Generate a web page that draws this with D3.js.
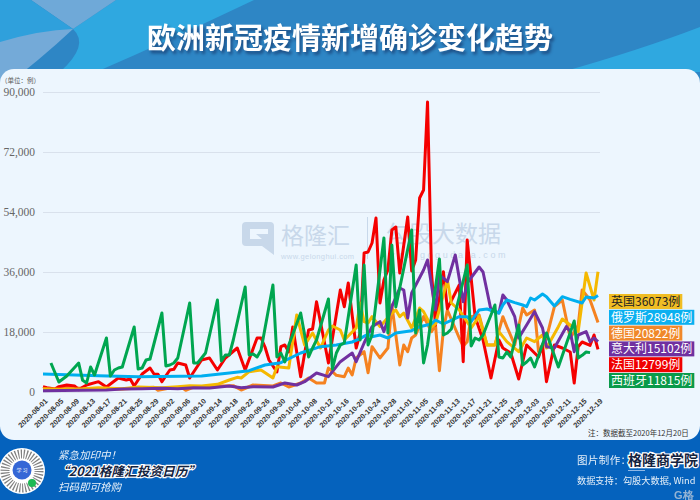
<!DOCTYPE html>
<html>
<head>
<meta charset="utf-8">
<script src="https://cdn.jsdelivr.net/npm/d3@7"></script>
<style>
  html, body { margin: 0; padding: 0; background: #2e86c5; }
  svg { display: block; }
  text { font-family: "Noto Sans CJK SC", "Noto Sans", sans-serif; }
</style>
</head>
<body>
<script>
// chart data (day = days since 2020-08-01)
const tickLabels = ['2020-08-01','2020-08-05','2020-08-09','2020-08-13','2020-08-17','2020-08-21','2020-08-25','2020-08-29',
  '2020-09-02','2020-09-06','2020-09-10','2020-09-14','2020-09-18','2020-09-22','2020-09-26','2020-09-30',
  '2020-10-04','2020-10-08','2020-10-12','2020-10-16','2020-10-20','2020-10-24','2020-10-28','2020-11-01',
  '2020-11-05','2020-11-09','2020-11-13','2020-11-17','2020-11-21','2020-11-25','2020-11-29','2020-12-03',
  '2020-12-07','2020-12-11','2020-12-15','2020-12-19'];
const yTicks = [0, 18000, 36000, 54000, 72000, 90000];

const germanyDays = [0,3,5,8,12,20,28,29,32,35,36,38,44,48,50,53,58,60,62,65,67,69,71,72,74,76,77,78,79,81,82,83,85,87,88,90,91,92,93,94,96,98,99,100,101,102,105,106,107,108,110,112,114,116,117,119,121,122,124,125,127,129,131,133,135,136,138,140];
const germanyValues = [600,800,1500,1300,800,900,1400,500,1200,1400,500,1500,1800,1900,600,2100,1800,2700,1500,2700,4200,2700,2700,7200,5000,4600,7200,5100,10200,12100,5800,13600,10200,13200,26100,8100,14100,12100,16200,17100,22600,18100,20100,6400,18600,24600,16200,13800,15100,22600,23100,14100,14100,22600,19600,14100,25200,23100,24600,12100,16200,25600,27600,16200,20000,30600,27600,20822];

const franceDays = [0,1,3,4,6,8,9,11,14,16,19,21,22,23,25,27,28,29,30,32,33,34,36,37,40,42,44,46,49,51,54,55,56,57,59,60,61,62,63,65,67,68,69,72,75,76,77,79,80,81,82,83,84,85,86,87,88,89,90,91,92,93,94,95,96,97,98,99,101,102,105,106,107,109,111,113,115,116,118,120,122,124,125,126,127,129,131,133,134,135,136,138,139,140];
const franceValues = [1600,1300,900,1600,2100,1800,700,2100,3100,1500,4200,3600,3900,1800,5400,7200,5400,5300,3100,6600,6800,8700,8100,4200,9600,10200,6600,10200,13200,6600,16200,16200,13500,9600,6000,13600,14100,12000,19500,4600,18600,18900,27100,8700,30600,25600,32700,13200,17700,41700,42000,44700,52200,26700,33600,36600,48600,49500,35700,44000,52500,36300,39600,58200,60600,87000,36000,20100,36100,25000,32100,9100,45600,22600,15600,4200,15600,13200,11700,3900,14100,11700,10500,14100,3100,14100,13200,12000,2700,13600,15000,14000,17100,12799];

const ukDays = [0,5,10,14,20,24,30,34,37,40,44,47,49,50,52,55,58,59,62,64,66,68,70,72,73,75,76,79,80,81,82,83,85,88,89,90,91,93,95,96,98,99,102,103,105,108,110,112,114,115,117,120,122,124,126,127,130,131,133,135,137,139,140];
const ukValues = [1000,800,1000,1300,1000,1500,1300,1600,1900,1800,2300,3600,4400,4200,6100,6600,4200,7600,7200,23100,14100,17700,13200,18600,19800,18600,15600,19200,26700,21100,20700,22600,19600,23700,24600,22600,23700,19200,25200,24100,19600,20400,33600,26700,24600,19200,22600,14100,14100,18100,15100,12100,16200,15100,17100,13200,19600,21900,20100,18100,35700,27600,36073];

const italyDays = [0,10,16,20,25,30,34,38,42,47,50,53,58,61,64,66,69,72,75,78,79,81,83,85,86,88,90,91,92,93,96,97,99,100,102,104,106,107,110,111,113,115,116,117,119,120,122,124,126,127,129,132,133,134,135,137,138,139,140];
const italyValues = [400,500,600,900,1000,1100,1000,1300,1200,1800,1300,1600,1500,2700,2100,3100,5700,4600,9100,11700,9100,14700,19600,21100,18100,25600,31200,30600,22200,29700,36600,39600,24600,35100,33100,41100,27100,32700,37500,36000,24600,23700,29100,27600,22600,16200,20100,24100,19200,13600,13200,19600,18100,12100,17100,18100,15100,16200,15102];

const russiaDays = [0,14,24,40,47,52,56,60,65,70,74,78,80,82,83,85,87,89,93,95,98,99,101,105,107,108,110,112,115,116,117,119,121,122,123,124,126,127,129,131,133,136,137,139,140];
const russiaValues = [5400,4900,4600,4800,5700,6400,8100,8800,11700,13600,14100,15000,16000,17400,16600,17100,16200,17700,18400,19600,20400,21600,20400,22600,22600,21100,24600,24900,23700,26100,27600,26800,26100,25600,28200,27600,29400,28600,25800,28600,27800,26700,28500,28200,28948];

const spainDays = [2,4,6,9,10,11,12,13,16,17,18,19,20,23,24,25,26,27,30,31,32,33,34,37,38,39,40,41,44,45,46,47,48,51,52,53,54,55,58,59,60,61,62,65,67,68,69,72,73,74,75,76,79,80,81,82,83,86,87,88,89,93,94,95,96,97,100,101,102,103,107,108,109,110,111,114,115,116,117,118,120,121,122,123,124,127,130,134,135,136,137,138];
const spainValues = [8700,3000,4800,8700,3500,2700,7500,5100,16200,4800,6600,7200,7500,19500,6900,7200,9600,9900,23700,7800,8100,8700,10200,26700,8700,8700,10200,11700,27600,9300,11100,11100,15600,31500,11100,11400,10500,12600,32100,10500,11700,9000,14100,23700,10500,13200,15600,27900,6900,11700,14100,14700,38100,15600,38100,14100,17100,46200,17700,44100,25500,48600,17700,24600,8700,14100,39900,17100,17700,18900,38100,13800,16200,15600,17100,26100,10500,10200,12000,10500,20100,8100,9000,10200,7500,17700,7500,21300,10200,11000,12000,11815];

const legendLabels = ['英国36073例','俄罗斯28948例','德国20822例','意大利15102例','法国12799例','西班牙11815例'];
const legendFills = ['#f0bd24','#0ab0f0','#f0882a','#7030a0','#f00000','#0a9a4a'];

// set variables
const w = 700, h = 500;
const plotLeft = 43, plotRight = 598, plotTop = 92, plotBottom = 392;

const svg = d3.select('body').append('svg').attr('width', w).attr('height', h);

// header swooshes
svg.append('rect').attr('width', w).attr('height', h).attr('fill', '#2e86c5');
const swoosh = [
  ['M116,0 L254,0 Q170,40 96,72 L60,72 Q90,45 73,29 Z', '#2fa8e0'],
  ['M31,0 L116,0 L73,29 Z', '#6fa9d8'],
  ['M0,0 L31,0 L73,29 Q30,50 0,85 Z', '#2fa0dc'],
  ['M0,42 Q40,30 73,29 Q40,60 0,90 Z', '#74aad8'],
  ['M562,72 Q640,50 700,27 L700,72 Z', '#2fa8e0']
];
svg.selectAll('.swoosh').data(swoosh).enter().append('path')
  .attr('class', 'swoosh').attr('d', d => d[0]).attr('fill', d => d[1]);

// title
svg.append('text').attr('x', 350).attr('y', 49).attr('text-anchor', 'middle')
  .style('font-size', '29px').style('font-weight', 700).attr('fill', '#fff')
  .style('filter', 'drop-shadow(2px 3px 1.5px #1d4f86)')
  .text('欧洲新冠疫情新增确诊变化趋势');

// footer and panel
svg.append('rect').attr('y', 425).attr('width', w).attr('height', 75).attr('fill', '#0562bd');
svg.append('rect').attr('y', 69).attr('width', w).attr('height', 371).attr('rx', 14).attr('fill', '#edf6fe');

// watermark
const mark = svg.append('g').attr('fill', '#c8d8ea');
mark.append('path').attr('fill-rule', 'evenodd')
  .attr('d', 'M246,222 H270 Q274,222 274,226 V255 L262,246 H246 Q242,246 242,242 V226 Q242,222 246,222 Z M250,229 V239 H262 L256,234 H268 V229 Z');
mark.append('text').attr('x', 281).attr('y', 244).style('font-size', '23px').text('格隆汇');
mark.append('text').attr('x', 281).attr('y', 259).style('font-family', '"Liberation Sans", sans-serif').style('font-size', '7.5px').style('letter-spacing', '0.4px').text('www.gelonghui.com');
mark.append('rect').attr('x', 367).attr('y', 217).attr('width', 1).attr('height', 42);
mark.append('text').attr('x', 386).attr('y', 242).style('font-size', '23px').text('勾股大数据');
mark.append('text').attr('x', 388).attr('y', 258).style('font-family', '"Liberation Sans", sans-serif').style('font-size', '9px').style('letter-spacing', '2.6px').text('www.gogudata.com');

// scales
const parseDay = d3.utcParse('%Y-%m-%d');
const start = parseDay(tickLabels[0]);
const dayDate = d => d3.utcDay.offset(start, d);
const xScale = d3.scaleUtc().domain([start, parseDay(tickLabels[tickLabels.length - 1])]).range([plotLeft, plotRight]);
const yScale = d3.scaleLinear().domain([0, 90000]).range([plotBottom, plotTop]);

// y axis + gridlines
const yAxis = d3.axisLeft(yScale).tickValues(yTicks).tickFormat(d3.format(',')).tickSize(-(plotRight + 2 - plotLeft)).tickPadding(8);
const yG = svg.append('g').attr('transform', `translate(${plotLeft},0)`).call(yAxis);
yG.select('.domain').remove();
yG.selectAll('line').attr('stroke', '#d9e1ec').attr('stroke-width', 1);
yG.selectAll('text').attr('fill', '#666').style('font-family', '"Liberation Serif", serif').style('font-size', '11.5px');

svg.append('text').attr('x', 1).attr('y', 83).attr('fill', '#555').style('font-size', '6.5px').text('（单位：例）');

// x axis
const xAxis = d3.axisBottom(xScale).tickValues(tickLabels.map(parseDay)).tickFormat(d3.utcFormat('%Y-%m-%d')).tickSize(0).tickPadding(6);
const xG = svg.append('g').attr('transform', `translate(0,${plotBottom})`).call(xAxis);
xG.select('.domain').remove();
xG.selectAll('text')
  .attr('text-anchor', 'end').attr('x', 3).attr('y', 8).attr('dy', '0.3em')
  .attr('transform', 'rotate(-45 3 8)')
  .attr('fill', '#333').style('font-family', '"Liberation Sans", sans-serif').style('font-weight', 700).style('font-size', '7.4px');

// lines
const line = d3.line().x(d => xScale(dayDate(d[0]))).y(d => yScale(d[1]));
const series = [
  [germanyDays, germanyValues, '#f58220'],
  [franceDays, franceValues, '#f50000'],
  [ukDays, ukValues, '#f5b800'],
  [italyDays, italyValues, '#7030a0'],
  [russiaDays, russiaValues, '#00aeef'],
  [spainDays, spainValues, '#00a650']
];
svg.selectAll('.series').data(series).enter().append('path')
  .attr('class', 'series')
  .attr('d', s => line(s[0].map((d, i) => [d, s[1][i]])))
  .attr('fill', 'none').attr('stroke', s => s[2]).attr('stroke-width', 3).attr('stroke-linejoin', 'round');

// legend boxes, sized to their text
const legend = svg.selectAll('.legend').data(legendLabels).enter().append('g')
  .attr('class', 'legend').attr('transform', (d, i) => `translate(609,${294 + i * 15.8})`);
legend.append('rect').attr('height', 15).attr('fill', (d, i) => legendFills[i]);
legend.append('text').attr('x', 2).attr('y', 12).style('font-size', '12px')
  .attr('fill', (d, i) => i === 0 ? '#222' : '#fff').text(d => d);
legend.each(function () {
  const tw = d3.select(this).select('text').node().getComputedTextLength();
  d3.select(this).select('rect').attr('width', tw + 4);
});

// note
svg.append('text').attr('x', 588).attr('y', 436).attr('fill', '#333').style('font-size', '7.5px').text('注：数据截至2020年12月20日');

// footer: qr badge
const qr = svg.append('g');
qr.append('circle').attr('cx', 22).attr('cy', 471).attr('r', 23).attr('fill', '#fff');
qr.append('circle').attr('cx', 22).attr('cy', 471).attr('r', 17).attr('fill', 'none').attr('stroke', '#555').attr('stroke-width', 9).attr('stroke-dasharray', '1.2 1.6').attr('opacity', 0.75);
qr.append('circle').attr('cx', 22).attr('cy', 470).attr('r', 9.5).attr('fill', '#3567d6');
qr.append('text').attr('x', 22).attr('y', 472).attr('text-anchor', 'middle').attr('fill', '#fff').style('font-size', '5px').text('学 习');
qr.append('circle').attr('cx', 32).attr('cy', 483).attr('r', 4).attr('fill', '#1db954');

// footer: text
const footerText = (x, y, size, str) => svg.append('text').attr('x', x).attr('y', y).attr('fill', '#fff').style('font-size', size + 'px').text(str);
footerText(58, 459, 10.5, '紧急加印中！').style('font-style', 'italic').attr('opacity', 0.9);
footerText(58, 491, 10.5, '扫码即可抢购').style('font-style', 'italic').attr('opacity', 0.9);
svg.append('text').attr('x', 56).attr('y', 476).style('font-size', '12.7px').style('font-weight', 700).style('font-style', 'italic')
  .attr('fill', '#14233f').attr('stroke', '#fff').attr('stroke-width', 2.4).style('paint-order', 'stroke')
  .text('“2021格隆汇投资日历”');

footerText(577, 464, 10.5, '图片制作：').style('letter-spacing', '0.4px').attr('opacity', 0.9);
svg.append('text').attr('x', 628).attr('y', 465).style('font-size', '14px')
  .style('font-weight', 700)
  .attr('fill', '#14233f').attr('stroke', '#fff').attr('stroke-width', 2.4).style('paint-order', 'stroke')
  .text('格隆商学院');
svg.append('rect').attr('x', 628).attr('y', 470).attr('width', 17).attr('height', 1).attr('fill', '#8fb8e6');
footerText(577, 484, 9.2, '数据支持：勾股大数据, Wind').attr('opacity', 0.9);
svg.append('text').attr('x', 674).attr('y', 499).attr('fill', '#c4cfdc').attr('opacity', 0.75).style('font-family', '"Liberation Sans", sans-serif').style('font-size', '11px').style('font-weight', 700).text('G格');
</script>
</body>
</html>
